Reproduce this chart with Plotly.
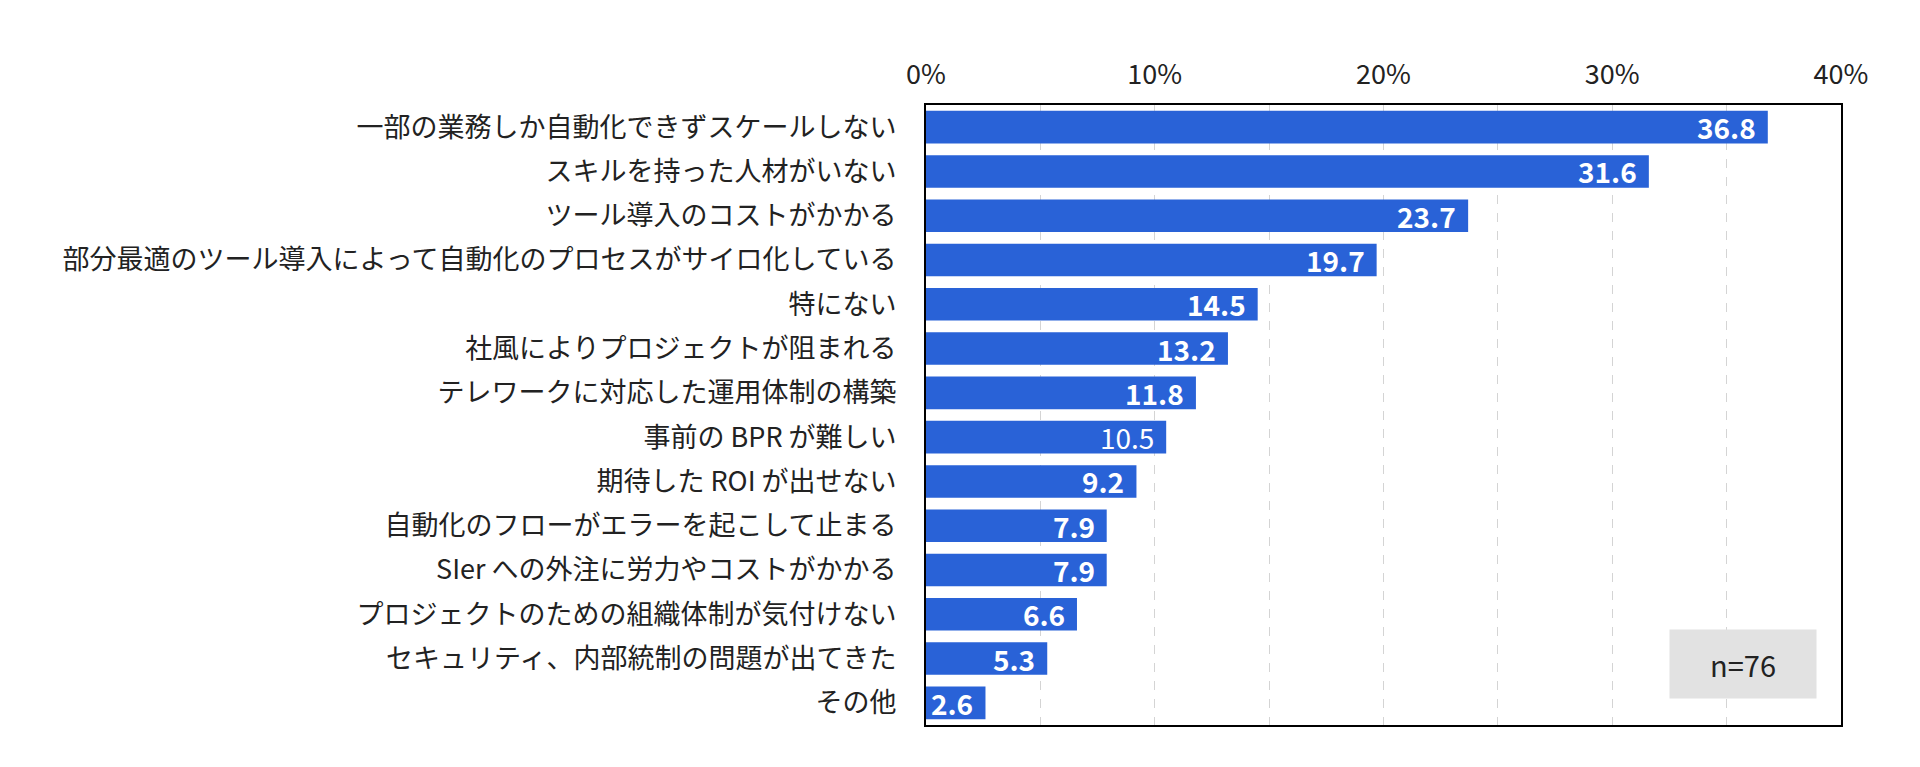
import plotly.graph_objects as go

categories = [
    "一部の業務しか自動化できずスケールしない",
    "スキルを持った人材がいない",
    "ツール導入のコストがかかる",
    "部分最適のツール導入によって自動化のプロセスがサイロ化している",
    "特にない",
    "社風によりプロジェクトが阻まれる",
    "テレワークに対応した運用体制の構築",
    "事前の BPR が難しい",
    "期待した ROI が出せない",
    "自動化のフローがエラーを起こして止まる",
    "SIer への外注に労力やコストがかかる",
    "プロジェクトのための組織体制が気付けない",
    "セキュリティ、内部統制の問題が出てきた",
    "その他",
]
values = [36.8, 31.6, 23.7, 19.7, 14.5, 13.2, 11.8, 10.5, 9.2, 7.9, 7.9, 6.6, 5.3, 2.6]
plain_label_index = 7  # this label is shown in regular weight in the original
x_ticks = [0, 10, 20, 30, 40]
x_tick_text = ["0%", "10%", "20%", "30%", "40%"]
sample_note = "n=76"

FONT = "Noto Sans CJK JP"
BAR = "#2962d7"

fig = go.Figure()
fig.add_trace(go.Bar(
    x=values, y=categories, orientation="h",
    marker=dict(color=BAR, line=dict(width=0)),
    hoverinfo="skip",
))

for i, (c, v) in enumerate(zip(categories, values)):
    txt = f"{v:.1f}" if i == plain_label_index else f"<b>{v:.1f}</b>"
    fig.add_annotation(
        x=v, y=c, xref="x", yref="y", text=txt, showarrow=False,
        xanchor="right", yanchor="middle", xshift=-10,
        font=dict(family=FONT, size=28, color="white"),
    )

fig.add_annotation(
    x=0.893, y=0.098, xref="paper", yref="paper", text=sample_note,
    showarrow=False, xanchor="center", yanchor="middle",
    width=144, height=66, bgcolor="#e2e2e2",
    font=dict(family=FONT, size=29, color="#222222"),
)

fig.update_layout(
    width=1920, height=767,
    margin=dict(l=918, r=87, t=97, b=50),
    paper_bgcolor="white", plot_bgcolor="white",
    bargap=0.265, showlegend=False,
    font=dict(family=FONT, size=27, color="#222222"),
)
fig.update_xaxes(
    range=[0, 40], side="top", tickvals=x_ticks, ticktext=x_tick_text,
    showgrid=True, gridcolor="#d4d4d4", griddash="dash", gridwidth=1,
    minor=dict(dtick=5, showgrid=True, gridcolor="#d4d4d4", griddash="dash", gridwidth=1),
    showline=True, linecolor="black", linewidth=2, mirror=True,
    ticks="", ticklabelstandoff=8, zeroline=False,
    tickfont=dict(family=FONT, size=27, color="#222222"),
)
fig.update_yaxes(
    autorange="reversed", showline=True, linecolor="black", linewidth=2, mirror=True,
    ticks="", ticklabelstandoff=22, showgrid=False,
    tickfont=dict(family=FONT, size=27, color="#222222"),
)

fig.write_html("out.html")
